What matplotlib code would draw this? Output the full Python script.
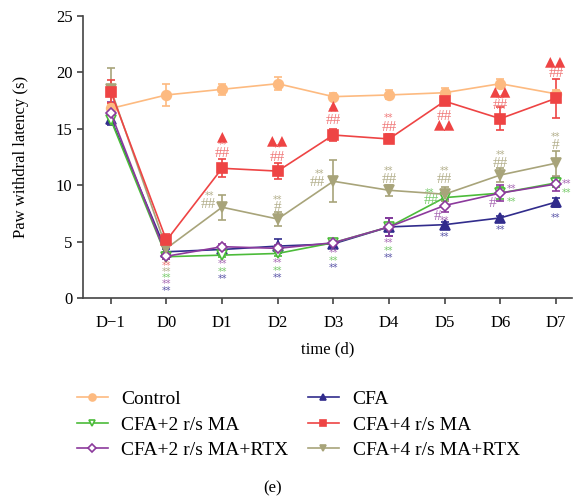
import matplotlib
matplotlib.use("Agg")
import matplotlib.pyplot as plt
from matplotlib.lines import Line2D
import numpy as np

days = ["D\u22121", "D0", "D1", "D2", "D3", "D4", "D5", "D6", "D7"]

control = [16.8, 18.0, 18.5, 19.0, 17.85, 18.0, 18.2, 19.0, 18.1]
control_err = [0.4, 0.95, 0.5, 0.6, 0.3, 0.4, 0.4, 0.4, 0.3]

cfa = [15.9, 4.1, 4.3, 4.6, 4.8, 6.3, 6.5, 7.1, 8.5]
cfa_err = [0.6, 0.2, 0.2, 0.6, 0.2, 0.8, 0.2, 0.2, 0.4]

ma2 = [15.8, 3.66, 3.8, 3.95, 4.9, 6.3, 8.9, 9.3, 10.2]
ma2_err = [0.4, 0.2, 0.2, 0.2, 0.2, 0.3, 0.3, 0.5, 0.4]

ma4 = [18.3, 5.1, 11.5, 11.25, 14.45, 14.1, 17.45, 15.9, 17.7]
ma4_err = [1.0, 0.6, 0.8, 0.7, 0.5, 0.4, 0.3, 1.0, 1.7]

ma2rtx = [16.4, 3.7, 4.55, 4.4, 4.9, 6.3, 8.2, 9.3, 10.1]
ma2rtx_err = [1.0, 0.2, 0.2, 0.3, 0.3, 0.8, 0.6, 0.7, 0.6]

ma4rtx = [18.5, 4.4, 8.05, 7.0, 10.35, 9.55, 9.2, 10.9, 11.95]
ma4rtx_err = [1.9, 0.3, 1.1, 0.6, 1.85, 0.5, 0.6, 0.6, 1.1]

labels = ["Control", "CFA", "CFA+2 r/s MA", "CFA+4 r/s MA",
          "CFA+2 r/s MA+RTX", "CFA+4 r/s MA+RTX"]

C_CTRL = "#FDBA80"
C_CFA = "#312C8C"
C_MA2 = "#4CBB3A"
C_MA4 = "#EE4444"
C_2RTX = "#8C3A9C"
C_4RTX = "#A8A47A"
# lighter annotation colours
A_MA4 = "#F07A7A"
A_4RTX = "#B3AF8C"
A_MA2 = "#7ACB6C"
A_2RTX = "#A86AB4"
A_CFA = "#5C57A8"

# annotations: (day index, y value, text, colour, x offset)
annotations = [
    # D0
    (1, 2.85, "**", A_MA4, 0), (1, 2.3, "**", A_4RTX, 0), (1, 1.75, "**", A_MA2, 0),
    (1, 1.2, "**", A_2RTX, 0), (1, 0.6, "**", A_CFA, 0),
    # D1
    (2, 3.0, "**", A_2RTX, 0), (2, 2.3, "**", A_MA2, 0), (2, 1.65, "**", A_CFA, 0),
    (2, 13.6, "**", A_MA4, 0), (2, 12.8, "##", A_MA4, 0),
    (2, 9.0, "**", A_4RTX, -0.22), (2, 8.25, "##", A_4RTX, -0.25),
    # D2
    (3, 3.1, "**", A_2RTX, 0), (3, 2.4, "**", A_MA2, 0), (3, 1.75, "**", A_CFA, 0),
    (3, 13.3, "**", A_MA4, 0), (3, 12.5, "##", A_MA4, 0),
    (3, 8.7, "**", A_4RTX, 0), (3, 8.0, "#", A_4RTX, 0),
    # D3
    (4, 4.0, "**", A_2RTX, 0), (4, 3.3, "**", A_MA2, 0), (4, 2.65, "**", A_CFA, 0),
    (4, 16.45, "**", A_MA4, 0), (4, 15.7, "##", A_MA4, 0),
    (4, 11.0, "**", A_4RTX, -0.25), (4, 10.2, "##", A_4RTX, -0.28),
    # D4
    (5, 4.9, "**", A_2RTX, 0), (5, 4.15, "**", A_MA2, 0), (5, 3.55, "**", A_CFA, 0),
    (5, 16.0, "**", A_MA4, 0), (5, 15.1, "##", A_MA4, 0),
    (5, 11.3, "**", A_4RTX, 0), (5, 10.5, "##", A_4RTX, 0),
    # D5
    (6, 16.1, "##", A_MA4, 0),
    (6, 11.3, "**", A_4RTX, 0), (6, 10.5, "##", A_4RTX, 0),
    (6, 9.3, "**", A_MA2, -0.27), (6, 8.6, "##", A_MA2, -0.23),
    (6, 7.2, "#", A_2RTX, -0.12), (6, 6.8, "**", A_2RTX, 0.0),
    (6, 5.4, "**", A_CFA, 0),
    # D6
    (7, 17.6, "**", A_MA4, 0), (7, 17.1, "##", A_MA4, 0),
    (7, 12.65, "**", A_4RTX, 0), (7, 11.9, "##", A_4RTX, 0),
    (7, 9.7, "**", A_2RTX, 0.2), (7, 8.55, "**", A_MA2, 0.2),
    (7, 8.4, "#", A_2RTX, -0.13),
    (7, 6.0, "**", A_CFA, 0),
    # D7
    (8, 19.9, "##", A_MA4, 0),
    (8, 14.3, "**", A_4RTX, 0), (8, 13.5, "#", A_4RTX, 0),
    (8, 10.1, "**", A_2RTX, 0.2), (8, 9.35, "**", A_MA2, 0.2),
    (8, 7.05, "**", A_CFA, 0),
]
# triangles (day index, y value, text)
triangles = [
    (2, 14.35, "\u25B2"), (3, 14.0, "\u25B2\u25B2"), (4, 17.05, "\u25B2"),
    (6, 15.4, "\u25B2\u25B2"), (7, 18.3, "\u25B2\u25B2"), (8, 21.0, "\u25B2\u25B2"),
]

plt.rcParams['font.family'] = ['Liberation Serif', 'DejaVu Serif']
fig = plt.figure(figsize=(5.74, 4.98), dpi=100)
ax = fig.add_axes([83 / 574, 200 / 498, 489 / 574, 282 / 498])

x = np.arange(len(days))
series = [
    (control, control_err, C_CTRL, "o", C_CTRL, labels[0]),
    (cfa, cfa_err, C_CFA, "^", C_CFA, labels[1]),
    (ma2, ma2_err, C_MA2, "v", "white", labels[2]),
    (ma2rtx, ma2rtx_err, C_2RTX, "D", "white", labels[4]),
    (ma4rtx, ma4rtx_err, C_4RTX, "v", C_4RTX, labels[5]),
    (ma4, ma4_err, C_MA4, "s", C_MA4, labels[3]),
]
handles = {}
for vals, err, col, mk, fc, lab in series:
    ms = 7 if mk != "D" else 5
    ax.errorbar(x, vals, yerr=err, color=col, marker=mk, markersize=ms,
                markerfacecolor=fc, markeredgecolor=col, markeredgewidth=1.2,
                linewidth=1.2, elinewidth=1.2, capsize=3, capthick=1.2)
    lms = 5 if mk != "D" else 4
    handles[lab] = Line2D([], [], color=col, marker=mk, markersize=lms,
                          markerfacecolor=fc, markeredgecolor=col,
                          markeredgewidth=1.2, linewidth=1.2)

for d, yv, t, c, dx in annotations:
    if t == "**":
        ax.text(x[d] + dx, yv, t, color=c, fontsize=7, ha="center", va="center",
                family="DejaVu Sans")
    else:
        ax.text(x[d] + dx, yv, t, color=c, fontsize=11, ha="center", va="center")
for d, yv, t in triangles:
    ax.text(x[d], yv, t, color=C_MA4, fontsize=10, ha="center", va="center",
            family="DejaVu Sans")

ax.set_xlim(-0.5, 8.29)
ax.set_ylim(0, 25)
ax.set_yticks([0, 5, 10, 15, 20, 25])
ax.set_xticks(x)
ax.set_xticklabels(days)
for s in ["top", "right"]:
    ax.spines[s].set_visible(False)
for s in ["left", "bottom"]:
    ax.spines[s].set_color("#444444")
    ax.spines[s].set_linewidth(1.2)
ax.tick_params(axis="both", labelsize=12, color="#444444", width=1.2, length=4,
               direction="out")
ax.tick_params(axis="x", pad=8)
ax.set_ylabel("Paw withdral latency (s)", fontsize=12, labelpad=19)
ax.set_xlabel("time (d)", fontsize=12, labelpad=8)

order = [labels[0], labels[2], labels[4], labels[1], labels[3], labels[5]]
leg = fig.legend([handles[k] for k in order], order, ncol=2, loc="upper left",
                 bbox_to_anchor=(59 / 574, 1 - 373 / 498), frameon=False,
                 fontsize=14, handlelength=1.6, columnspacing=1.0,
                 labelspacing=0.4, handletextpad=0.7)
fig.text(273 / 574, 1 - 488 / 498, "(e)", fontsize=12, ha="center", va="center")

fig.savefig("out.png", dpi=100)
